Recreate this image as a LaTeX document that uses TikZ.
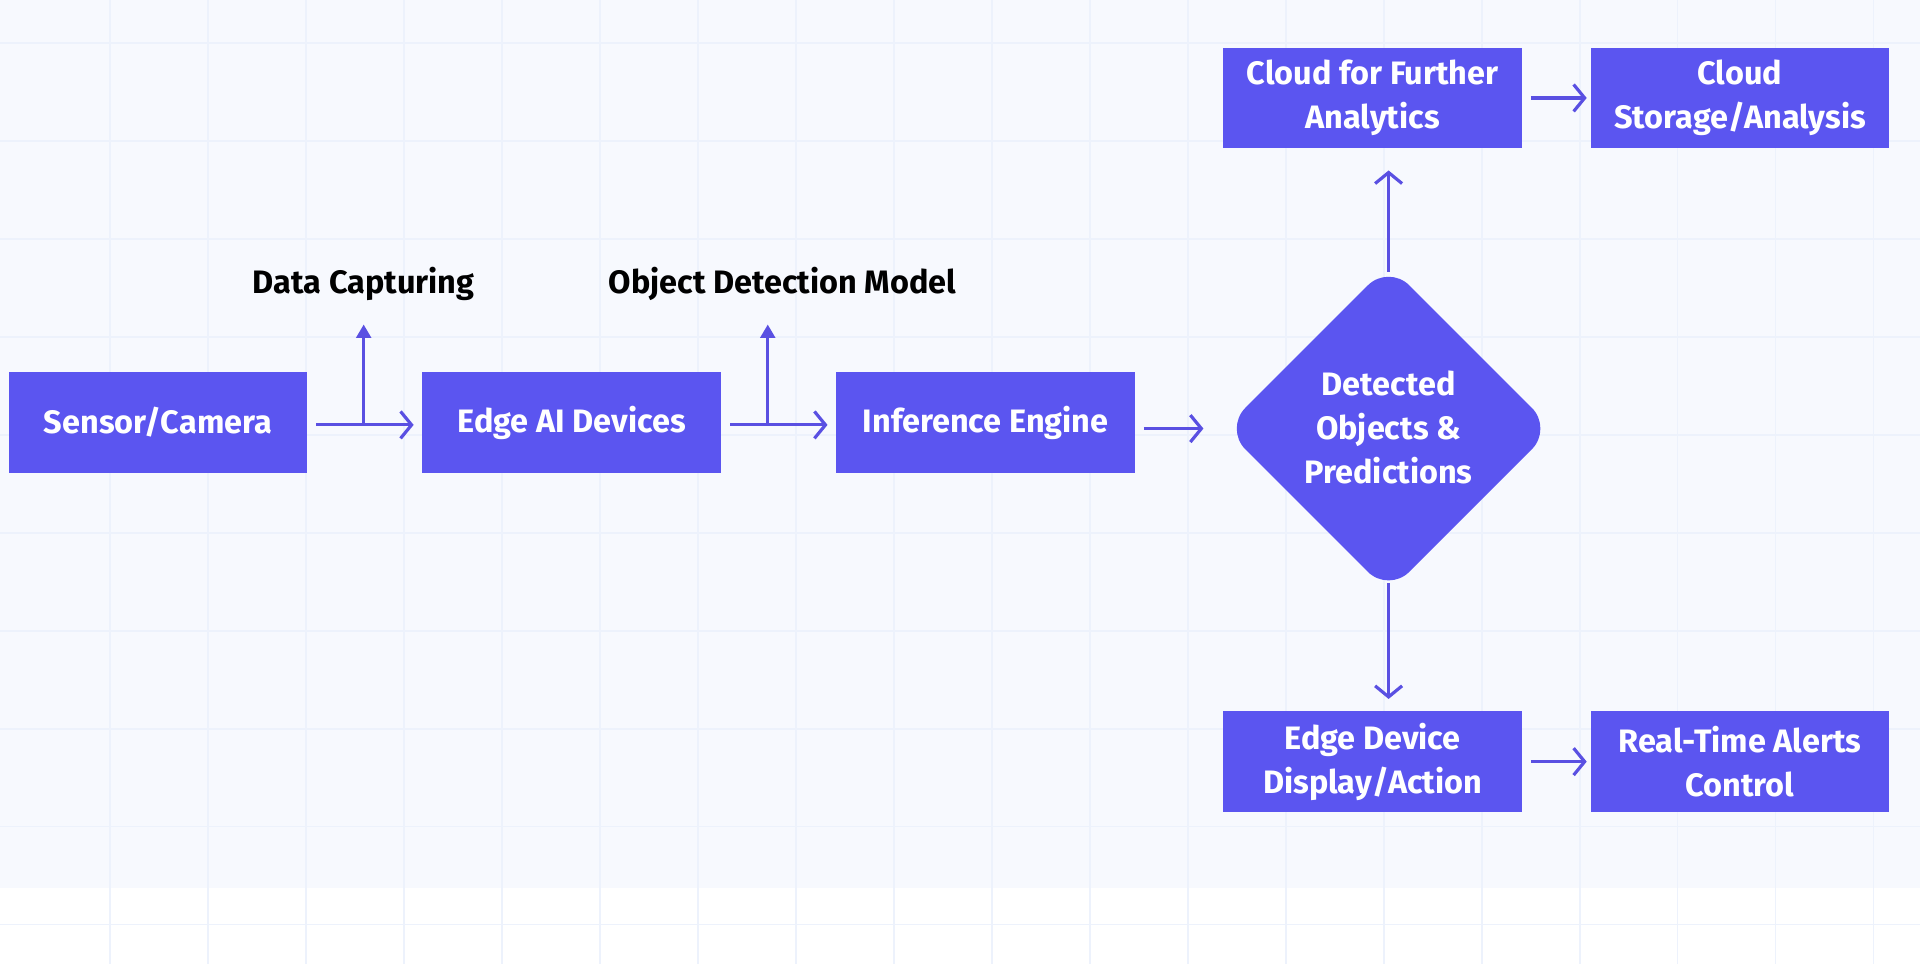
\documentclass[tikz,border=0pt]{standalone}
\usepackage{fontspec}
\setmainfont{Fira Sans}
\usetikzlibrary{shapes.geometric,arrows.meta}
\definecolor{boxc}{HTML}{5B55F0}
\definecolor{arr}{HTML}{5A50E2}
\definecolor{gridc}{HTML}{EDF2FC}
\begin{document}
\begin{tikzpicture}[x=1pt,y=-1pt,
  box/.style={fill=boxc,text=white,minimum width=244pt,minimum height=82pt,inner sep=0pt,align=center,font=\fontsize{26.5}{36}\selectfont\bfseries},
  lbl/.style={font=\fontsize{26.5}{30}\selectfont\bfseries,text=black},
  ar/.style={draw=arr,line width=2.6pt,-{Straight Barb[length=9pt,width=22pt,line width=2.6pt]}}]
\useasboundingbox (0,0) rectangle (1568,787);
\fill[white] (0,0) rectangle (1568,787);
\fill[gridc!45] (0,0) rectangle (1568,725);
\foreach \x in {90,170,250,330,410,490,570,650,730,810,890,970,1050,1130,1210,1290,1370,1450,1530}
  \draw[gridc,line width=1.5pt] (\x,0) -- (\x,787);
\foreach \y in {35,115,195,275,355,435,515,595,675,755}
  \draw[gridc,line width=1.5pt] (0,\y) -- (1568,\y);
\node[box] (sc) at (129,345) {Sensor/Camera};
\node[box] (ea) at (467,345) {Edge AI Devices};
\node[box] (ie) at (805,345) {Inference Engine};
\node[diamond,fill=boxc,minimum width=268pt,minimum height=268pt,inner sep=0pt,rounded corners=24pt] (dd) at (1134,350) {};
\node[text=white,align=center,font=\fontsize{26.5}{36}\selectfont\bfseries] (dt) at (1134,349) {Detected\\Objects \&\\Predictions};
\node[box] (cf) at (1121,80) {Cloud for Further\\Analytics};
\node[box] (cs) at (1421,80) {Cloud\\Storage/Analysis};
\node[box] (ed) at (1121,622) {Edge Device\\Display/Action};
\node[box] (rt) at (1421,622) {Real-Time Alerts\\Control};
\node[lbl] (dc) at (297,232) {Data Capturing};
\node[lbl] (od) at (639,232) {Object Detection Model};
\coordinate (b1) at (297,347); \coordinate (t1) at (297,265);
\coordinate (b2) at (627,347); \coordinate (t2) at (627,265);
\draw[ar] ([xshift=7pt]sc.east|-b1) -- ([xshift=-7pt]ea.west|-b1);
\draw[draw=arr,line width=2.6pt,-{Triangle[length=11pt,width=12pt]}] (b1) -- (t1);
\draw[ar] ([xshift=7pt]ea.east|-b2) -- ([xshift=-7pt]ie.west|-b2);
\draw[draw=arr,line width=2.6pt,-{Triangle[length=11pt,width=12pt]}] (b2) -- (t2);
\draw[ar] ([xshift=7pt]ie.east|-dd) -- ([xshift=-17pt]dd.west);
\draw[ar] ([yshift=-6pt]dd.north) -- ([yshift=-18pt]cf.south-|dd);
\draw[ar] ([yshift=8pt]dd.south) -- ([yshift=10pt]ed.north-|dd);
\draw[ar] ([xshift=7pt]cf.east) -- ([xshift=-3pt]cs.west);
\draw[ar] ([xshift=7pt]ed.east) -- ([xshift=-3pt]rt.west);
\end{tikzpicture}
\end{document}
